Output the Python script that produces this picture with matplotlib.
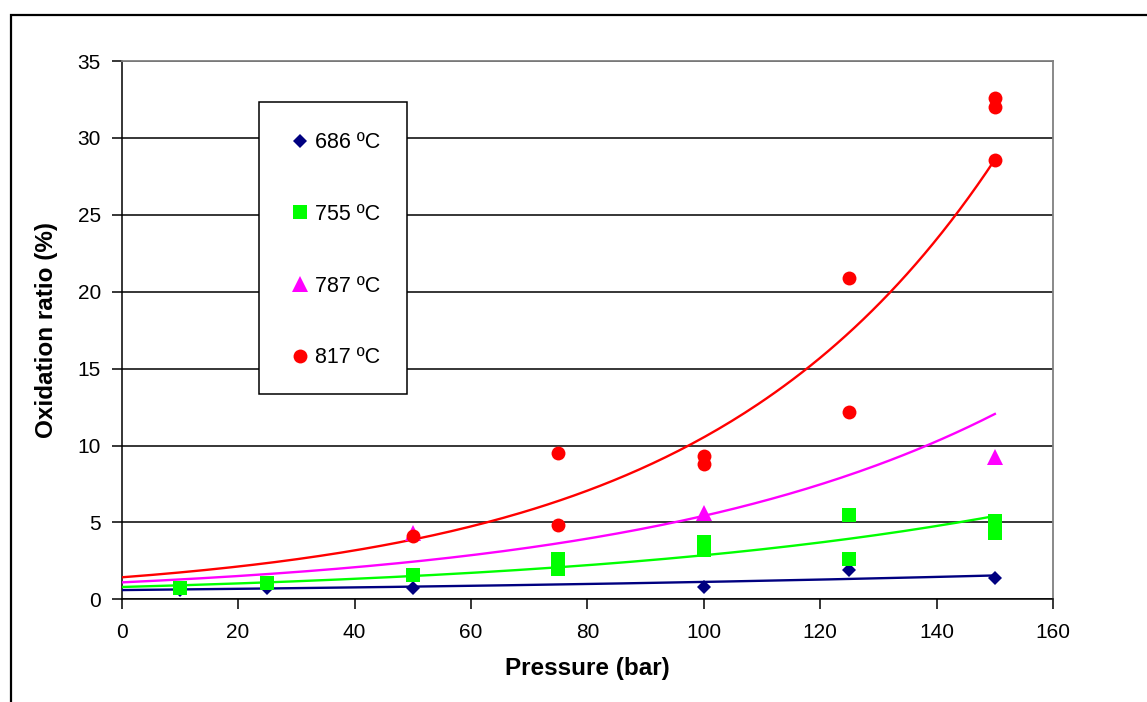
import numpy as np
import matplotlib
matplotlib.use("Agg")
import matplotlib.pyplot as plt
from matplotlib.patches import Rectangle
from matplotlib.lines import Line2D

plt.rcParams['font.family'] = ['Liberation Sans', 'DejaVu Sans']

# ---- data ----
labels = ["686 ºC", "755 ºC", "787 ºC", "817 ºC"]
p_686 = [10, 25, 50, 100, 125, 150]
r_686 = [0.60, 0.71, 0.71, 0.82, 1.90, 1.36]
p_755 = [10, 25, 50, 75, 75, 100, 100, 125, 125, 150, 150]
r_755 = [0.71, 1.08, 1.58, 2.60, 1.95, 3.72, 3.22, 5.45, 2.60, 5.10, 4.30]
p_787 = [50, 100, 150]
r_787 = [4.30, 5.59, 9.27]
p_817 = [50, 75, 75, 100, 100, 125, 125, 150, 150, 150]
r_817 = [4.14, 9.49, 4.83, 9.32, 8.78, 20.87, 12.18, 32.57, 32.03, 28.56]
# exponential trend lines y = a*exp(b*x), as drawn (x from 0 to 150)
trend_a = [0.60, 0.80, 1.10, 1.43]
trend_b = [0.00633, 0.01275, 0.01596, 0.01997]
trend_range = [0, 150]

colors = ["#000080", "#00FF00", "#FF00FF", "#FF0000"]
markers = ["D", "s", "^", "o"]
msizes = [7.4, 9.6, 11, 10]

pressures = [p_686, p_755, p_787, p_817]
ratios = [r_686, r_755, r_787, r_817]

fig = plt.figure(figsize=(11.47, 7.02), dpi=100)
ax = fig.add_axes([0.1061, 0.1463, 0.8120, 0.7667])

# outer chart border
fig.patches.append(Rectangle((11 / 1147, -0.05), 1.2, (702 - 15) / 702 + 0.05,
                             transform=fig.transFigure, fill=False,
                             edgecolor="black", linewidth=1.6, zorder=0))

xs = np.linspace(trend_range[0], trend_range[1], 200)
for i in range(4):
    ax.plot(xs, trend_a[i] * np.exp(trend_b[i] * xs), color=colors[i],
            linewidth=1.7, zorder=3)
for i in range(4):
    ax.plot(pressures[i], ratios[i], linestyle="none", marker=markers[i],
            markersize=msizes[i], color=colors[i], markeredgewidth=0,
            zorder=4)

ax.set_xlim(0, 160)
ax.set_ylim(0, 35)
ax.set_xticks(np.arange(0, 161, 20))
ax.set_yticks(np.arange(0, 36, 5))
ax.yaxis.grid(True, color="black", linewidth=1.1)
ax.set_axisbelow(True)
ax.tick_params(axis="both", labelsize=15, length=7, width=1.1, color="black",
               direction="out", pad=8)
ax.tick_params(axis="x", pad=10)
for side in ["top", "right"]:
    ax.spines[side].set_color("#808080")
    ax.spines[side].set_linewidth(1.3)
for side in ["left", "bottom"]:
    ax.spines[side].set_color("black")
    ax.spines[side].set_linewidth(1.1)

ax.set_xlabel("Pressure (bar)", fontsize=17.5, fontweight="bold", labelpad=11)
ax.set_ylabel("Oxidation ratio (%)", fontsize=17.5, fontweight="bold", labelpad=14)

# legend box
ax.add_patch(Rectangle((0.1478, (599.3 - 394) / 538.3), 148 / 931.3,
                       (394 - 101.7) / 538.3, transform=ax.transAxes,
                       facecolor="white", edgecolor="black", linewidth=1.1,
                       zorder=5))
handles = [Line2D([], [], linestyle="none", marker=markers[i],
                  markersize=msizes[i], color=colors[i], markeredgewidth=0)
           for i in range(4)]
leg = ax.legend(handles, labels, loc="upper left",
                bbox_to_anchor=(0.1705, 0.8875), frameon=False, fontsize=15.5,
                labelspacing=2.35, handlelength=0.8, handletextpad=0.3,
                borderpad=0)
leg.set_zorder(6)

fig.savefig("out.png", dpi=100)
